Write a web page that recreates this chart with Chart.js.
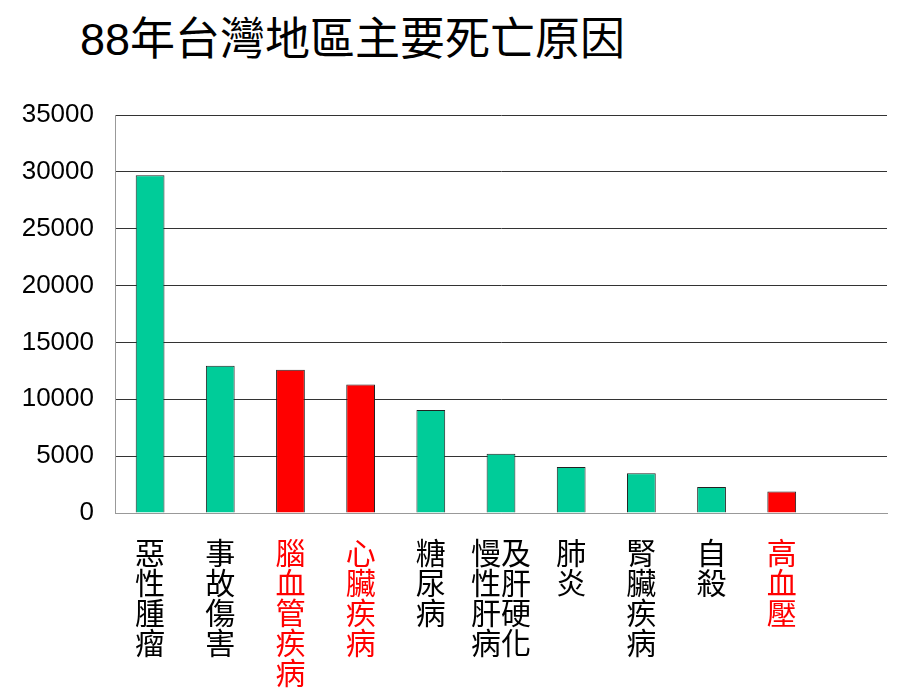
<!DOCTYPE html>
<html>
<head>
<meta charset="utf-8">
<script src="https://cdn.jsdelivr.net/npm/chart.js@4/dist/chart.umd.min.js"></script>
<style>
  body { margin: 0; background: #fff; }
  #wrap { position: relative; width: 920px; height: 690px; }
  #title {
    position: absolute; left: 80px; top: 17px;
    font-family: "Liberation Sans", "Noto Sans CJK TC", sans-serif;
    font-size: 45px; line-height: 46px; color: #000; white-space: nowrap;
  }
  canvas { position: absolute; left: 0; top: 0; }
</style>
</head>
<body>
<div id="wrap">
  <div id="title">88年台灣地區主要死亡原因</div>
  <canvas id="myChart" width="920" height="690"></canvas>
</div>
<script>
"use strict";

// causes of death, one line per stacked character (last slot left empty)
const causes = [
  ["惡", "性", "腫", "瘤"],
  ["事", "故", "傷", "害"],
  ["腦", "血", "管", "疾", "病"],
  ["心", "臟", "疾", "病"],
  ["糖", "尿", "病"],
  ["慢及", "性肝", "肝硬", "病化"],
  ["肺", "炎"],
  ["腎", "臟", "疾", "病"],
  ["自", "殺"],
  ["高", "血", "壓"],
  [""]
];

// deaths
const deaths = [29700, 12950, 12600, 11300, 9050, 5200, 4050, 3500, 2280, 1900, null];

// circulatory causes drawn in red
const isRed = [false, false, true, true, false, false, false, false, false, true, false];

const yTicks = [0, 5000, 10000, 15000, 20000, 25000, 30000, 35000];

const green = "#00CC99";
const red = "#FF0000";

const config = {
  type: "bar",
  data: {
    labels: causes,
    datasets: [{
      data: deaths,
      backgroundColor: isRed.map(r => r ? red : green),
      borderColor: "#222222",
      borderWidth: 1,
      barPercentage: 0.41,
      categoryPercentage: 1.0
    }]
  },
  options: {
    responsive: false,
    animation: false,
    layout: { padding: { top: 115, right: 33, left: 0, bottom: 0 } },
    plugins: {
      legend: { display: false },
      tooltip: { enabled: false }
    },
    scales: {
      x: {
        grid: { display: false, drawTicks: false },
        border: { display: true, color: "#999999", width: 1 },
        ticks: {
          autoSkip: false,
          maxRotation: 0,
          padding: 25,
          color: ctx => isRed[ctx.index] ? red : "#000000",
          font: { family: "'Noto Sans CJK TC', sans-serif", size: 30, lineHeight: 1.0 }
        },
        afterFit: scale => { scale.height = 177; }
      },
      y: {
        min: 0,
        max: 35000,
        afterBuildTicks: scale => { scale.ticks = yTicks.map(v => ({ value: v })); },
        grid: {
          drawTicks: false,
          color: ctx => ctx.index === 0 ? "#999999" : "#333333",
          lineWidth: 1
        },
        border: { display: true, color: "#999999", width: 1 },
        ticks: {
          padding: 21,
          color: "#000000",
          font: { family: "'Liberation Sans', Arial, sans-serif", size: 26 },
          callback: v => String(v)
        },
        afterFit: scale => { scale.width = 115; }
      }
    }
  }
};

const myChart = new Chart(document.getElementById("myChart"), config);
</script>
</body>
</html>
